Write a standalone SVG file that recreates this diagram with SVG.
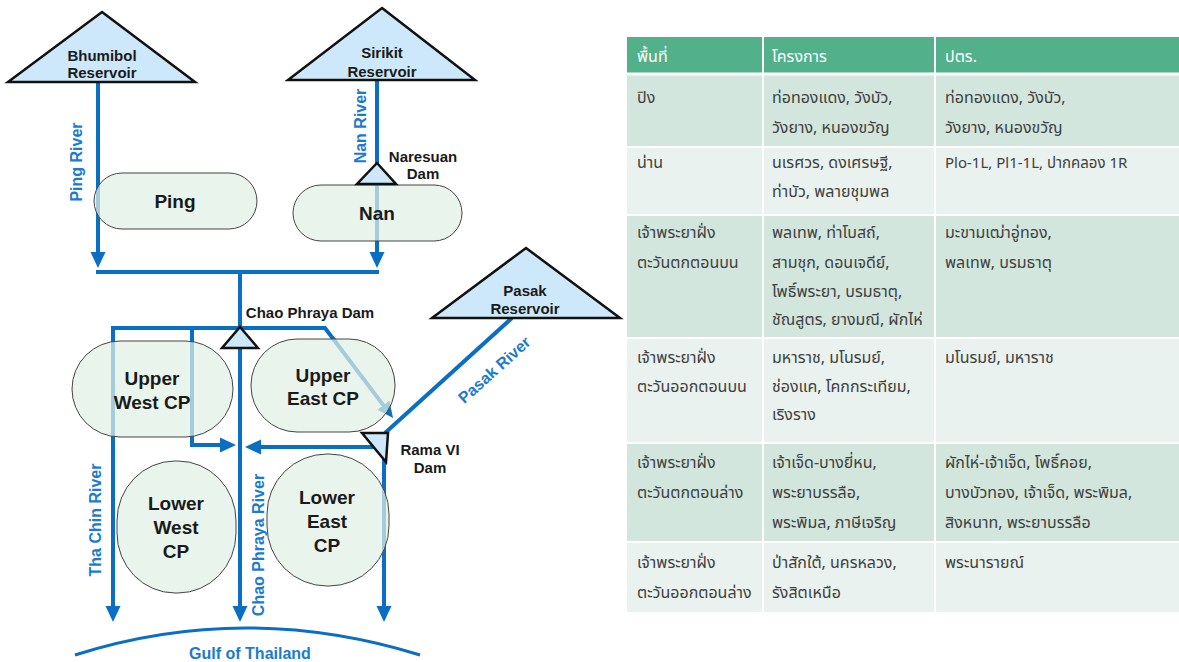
<svg xmlns="http://www.w3.org/2000/svg" width="1179" height="662" viewBox="0 0 1179 662">
<defs>
<marker id="arr" markerUnits="userSpaceOnUse" markerWidth="16" markerHeight="16" viewBox="0 0 16 16" refX="8" refY="8" orient="auto">
<path d="M0,0.5 L16,8 L0,15.5 z" fill="#0a6fc2"/>
</marker>
<style>
.riv{fill:none;stroke:#0a6fc2;stroke-width:4;}
.ar{marker-end:url(#arr);}
.res{fill:#cde8fa;stroke:#111;stroke-width:2.5;stroke-linejoin:miter;}
.node{fill:#e1f0e4;fill-opacity:0.72;stroke:#444;stroke-width:1;}
.lbl{font-family:"Liberation Sans",Arial,sans-serif;font-weight:bold;fill:#1a1a1a;text-anchor:middle;}
.nl{font-size:19px;}
.rl{font-size:15px;}
.bl{font-family:"Liberation Sans",Arial,sans-serif;font-weight:bold;fill:#1b7bd0;font-size:16px;text-anchor:middle;}
.th{font-family:"Noto Sans Thai","Noto Sans","DejaVu Sans",sans-serif;font-size:16px;fill:#404040;}
.sm{font-size:15px;}
.hd{fill:#fff;}
</style>
</defs>
<rect width="1179" height="662" fill="#fff"/>

<g id="connectors">
<path class="riv ar" d="M98,82 V260"/>
<path class="riv ar" d="M377,80 V260"/>
<path class="riv" d="M96,272 H379"/>
<path class="riv ar" d="M240,272 V614"/>
<path class="riv ar" d="M113,326 V614"/>
<path class="riv ar" d="M111,328 H325 L388.2,411.6"/>
<path class="riv ar" d="M192,328 V445 H228"/>
<path class="riv" d="M512,318 L385,433"/>
<path class="riv ar" d="M384,436 V614"/>
<path class="riv ar" d="M382,447 H253"/>
<path d="M75,655 Q245,601 420,655" fill="none" stroke="#0a6fc2" stroke-width="3"/>
</g>

<g id="ping-river-label"><text class="bl" transform="translate(82,162) rotate(-90)">Ping River</text></g>
<g id="nan-river-label"><text class="bl" transform="translate(366,126) rotate(-90)">Nan River</text></g>
<g id="thachin-river-label"><text class="bl" transform="translate(101,520) rotate(-90)">Tha Chin River</text></g>
<g id="chaophraya-river-label"><text class="bl" transform="translate(264,545) rotate(-90)">Chao Phraya River</text></g>
<g id="pasak-river-label"><text class="bl" transform="translate(498,374) rotate(-42)">Pasak River</text></g>
<g id="gulf"><text class="bl" x="250" y="659">Gulf of Thailand</text></g>

<g id="bhumibol">
<polygon class="res" points="102,12 195,82 8,82"/>
<text class="lbl rl" x="102" y="61">Bhumibol</text>
<text class="lbl rl" x="102" y="78">Reservoir</text>
</g>
<g id="sirikit">
<polygon class="res" points="382,8 475,80 288,80"/>
<text class="lbl rl" x="382" y="58">Sirikit</text>
<text class="lbl rl" x="382" y="77">Reservoir</text>
</g>
<g id="pasak">
<polygon class="res" points="526,248 620,318 432,318"/>
<text class="lbl rl" x="525" y="296">Pasak</text>
<text class="lbl rl" x="525" y="314">Reservoir</text>
</g>

<g id="ping">
<rect class="node" x="94" y="173" width="163" height="56" rx="28"/>
<text class="lbl nl" x="175" y="208">Ping</text>
</g>
<g id="nan">
<rect class="node" x="293" y="185" width="169" height="56" rx="28"/>
<text class="lbl nl" x="377" y="220">Nan</text>
</g>
<g id="naresuan-dam">
<polygon class="res" points="377,163 396,184 357,184"/>
<text class="lbl rl" x="423" y="162">Naresuan</text>
<text class="lbl rl" x="423" y="179">Dam</text>
</g>
<g id="chaophraya-dam">
<polygon class="res" points="240,327 258,348 222,348"/>
<text class="lbl rl" x="310" y="318">Chao Phraya Dam</text>
</g>
<g id="upper-west">
<rect class="node" x="72" y="341" width="161" height="96" rx="48"/>
<text class="lbl nl" x="152" y="385">Upper</text>
<text class="lbl nl" x="152" y="409">West CP</text>
</g>
<g id="upper-east">
<rect class="node" x="251" y="339" width="144" height="93" rx="46"/>
<text class="lbl nl" x="323" y="382">Upper</text>
<text class="lbl nl" x="323" y="405">East CP</text>
</g>
<g id="lower-west">
<rect class="node" x="117" y="461" width="119" height="132" rx="58" ry="60"/>
<text class="lbl nl" x="176" y="510">Lower</text>
<text class="lbl nl" x="176" y="534">West</text>
<text class="lbl nl" x="176" y="558">CP</text>
</g>
<g id="lower-east">
<rect class="node" x="267" y="454" width="122" height="132" rx="60" ry="60"/>
<text class="lbl nl" x="327" y="504">Lower</text>
<text class="lbl nl" x="327" y="528">East</text>
<text class="lbl nl" x="327" y="552">CP</text>
</g>
<g id="rama6-dam">
<polygon class="res" points="362,433 388,433 386,462"/>
<text class="lbl rl" x="430" y="455">Rama VI</text>
<text class="lbl rl" x="430" y="473">Dam</text>
</g>

<g id="table">
<rect x="627" y="37" width="552" height="36" fill="#52b08a"/>
<rect x="627" y="75" width="552" height="72" fill="#d2e6dd"/>
<rect x="627" y="147" width="552" height="68" fill="#e9f2ee"/>
<rect x="627" y="215" width="552" height="123" fill="#d2e6dd"/>
<rect x="627" y="338" width="552" height="105" fill="#e9f2ee"/>
<rect x="627" y="443" width="552" height="99" fill="#d2e6dd"/>
<rect x="627" y="542" width="552" height="70" fill="#e9f2ee"/>
<g stroke="#fff" stroke-width="2">
<line x1="627" y1="74" x2="1179" y2="74" stroke-width="3"/>
<line x1="627" y1="147" x2="1179" y2="147"/>
<line x1="627" y1="215" x2="1179" y2="215"/>
<line x1="627" y1="338" x2="1179" y2="338"/>
<line x1="627" y1="443" x2="1179" y2="443"/>
<line x1="627" y1="542" x2="1179" y2="542"/>
<line x1="763" y1="37" x2="763" y2="612"/>
<line x1="935" y1="37" x2="935" y2="612"/>
</g>
<text class="th hd" x="637" y="62">พื้นที่</text>
<text class="th hd" x="772" y="62">โครงการ</text>
<text class="th hd" x="945" y="62">ปตร.</text>

<text class="th" x="637" y="103">ปิง</text>
<text class="th" x="772" y="103">ท่อทองแดง, วังบัว,</text>
<text class="th" x="772" y="133">วังยาง, หนองขวัญ</text>
<text class="th" x="945" y="103">ท่อทองแดง, วังบัว,</text>
<text class="th" x="945" y="133">วังยาง, หนองขวัญ</text>

<text class="th" x="637" y="168">น่าน</text>
<text class="th" x="772" y="168">นเรศวร, ดงเศรษฐี,</text>
<text class="th" x="772" y="197">ท่าบัว, พลายชุมพล</text>
<text class="th sm" x="945" y="168">Plo-1L, Pl1-1L, ปากคลอง 1R</text>

<text class="th" x="637" y="238">เจ้าพระยาฝั่ง</text>
<text class="th" x="637" y="268">ตะวันตกตอนบน</text>
<text class="th" x="772" y="238">พลเทพ, ท่าโบสถ์,</text>
<text class="th" x="772" y="268">สามชุก, ดอนเจดีย์,</text>
<text class="th" x="772" y="297">โพธิ์พระยา, บรมธาตุ,</text>
<text class="th" x="772" y="325">ชัณสูตร, ยางมณี, ผักไห่</text>
<text class="th" x="945" y="238">มะขามเฒ่าอู่ทอง,</text>
<text class="th" x="945" y="268">พลเทพ, บรมธาตุ</text>

<text class="th" x="637" y="363">เจ้าพระยาฝั่ง</text>
<text class="th" x="637" y="392">ตะวันออกตอนบน</text>
<text class="th" x="772" y="363">มหาราช, มโนรมย์,</text>
<text class="th" x="772" y="392">ช่องแค, โคกกระเทียม,</text>
<text class="th" x="772" y="420">เริงราง</text>
<text class="th" x="945" y="363">มโนรมย์, มหาราช</text>

<text class="th" x="637" y="468">เจ้าพระยาฝั่ง</text>
<text class="th" x="637" y="498">ตะวันตกตอนล่าง</text>
<text class="th" x="772" y="468">เจ้าเจ็ด-บางยี่หน,</text>
<text class="th" x="772" y="498">พระยาบรรลือ,</text>
<text class="th" x="772" y="528">พระพิมล, ภาษีเจริญ</text>
<text class="th" x="945" y="468">ผักไห่-เจ้าเจ็ด, โพธิ์คอย,</text>
<text class="th" x="945" y="498">บางบัวทอง, เจ้าเจ็ด, พระพิมล,</text>
<text class="th" x="945" y="528">สิงหนาท, พระยาบรรลือ</text>

<text class="th" x="637" y="568">เจ้าพระยาฝั่ง</text>
<text class="th" x="637" y="598">ตะวันออกตอนล่าง</text>
<text class="th" x="772" y="568">ป่าสักใต้, นครหลวง,</text>
<text class="th" x="772" y="598">รังสิตเหนือ</text>
<text class="th" x="945" y="568">พระนารายณ์</text>
</g>
</svg>
